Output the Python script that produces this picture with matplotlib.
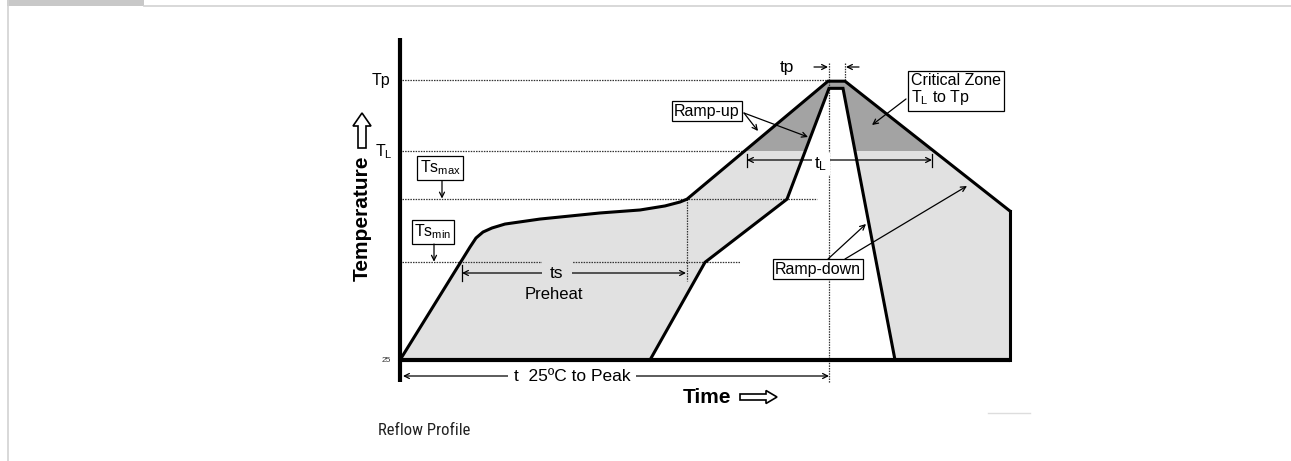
import numpy as np
import matplotlib
matplotlib.use("Agg")
import matplotlib.pyplot as plt
from matplotlib.patches import Rectangle, FancyArrow, Polygon
from matplotlib import font_manager as fm

plt.rcParams['font.family'] = ['Liberation Sans', 'DejaVu Sans']
plt.rcParams['mathtext.default'] = 'regular'

# ---------------- data (schematic reflow profile) ----------------
# outer (max) profile: time units, temperature units
TIME_OUTER = [0, 70, 76, 83, 92, 105, 140, 200, 240, 265, 280, 287, 428, 445, 610, 610]
TEMP_OUTER = [25, 119.8, 127.4, 132.4, 135.8, 139.1, 143.3, 148.4, 150.9, 154.3, 157.6, 160,
              259, 259, 150, 25]
# inner (min) profile
TIME_INNER = [250, 305, 387, 429, 443, 495]
TEMP_INNER = [25, 107, 160, 253, 253, 25]

# temperature levels
LEVEL_LABELS = ['25', 'Ts_min', 'Ts_max', 'T_L', 'Tp']
LEVEL_TEMPS = [25, 107, 160, 200, 260]
T25, TSMIN, TSMAX, TL, TP = LEVEL_TEMPS

# characteristic times
T_TSMIN_CROSS = 61     # outer curve crosses Ts_min
T_TSMAX_CROSS = 287    # outer curve crosses Ts_max
T_TL_START = 347       # start of t_L
T_TL_END = 532         # end of t_L
T_PEAK_START = 429
T_PEAK_END = 445
T_END = 610

# ---------------- figure ----------------
W, H = 1291, 461
fig = plt.figure(figsize=(W / 100, H / 100), dpi=100)
ax = fig.add_axes([0, 0, 1, 1])
K = 235 / 280.0
X0, Y0 = 400, 360


def X(px):
    return px - X0


def T(py):
    return 25 + (Y0 - py) * K


ax.set_xlim(X(0), X(W))
ax.set_ylim(T(H), T(0))
ax.axis('off')

LIGHT = '#e1e1e1'
DARK = '#a3a3a3'
DOT = (0, (1.2, 0.9))

# fills
outer_xy = np.column_stack([TIME_OUTER, TEMP_OUTER])
inner_xy = np.column_stack([TIME_INNER, TEMP_INNER])
ax.add_patch(Polygon(outer_xy, closed=True, fc=LIGHT, ec='none', zorder=1))
dark = Polygon(outer_xy, closed=True, fc=DARK, ec='none', zorder=1.2)
ax.add_patch(dark)
clip = Rectangle((X(0), TL), X(W) - X(0), T(0) - TL, transform=ax.transData)
dark.set_clip_path(clip)
ax.add_patch(Polygon(inner_xy, closed=True, fc='white', ec='none', zorder=1.5))

# dotted reference lines
ref_kw = dict(color='#333333', lw=0.9, ls=DOT, zorder=3)
ax.plot([X(402), T_PEAK_START - 1], [TP, TP], **ref_kw)
ax.plot([X(402), X(745)], [TL, TL], **ref_kw)
ax.plot([X(402), X(817)], [TSMAX, TSMAX], **ref_kw)
ax.plot([X(402), X(740)], [TSMIN, TSMIN], **ref_kw)
ax.plot([T_PEAK_START, T_PEAK_START], [T(63), T(383)], **ref_kw)
ax.plot([T_PEAK_END, T_PEAK_END], [T(63), T(80)], **ref_kw)
ax.plot([T_TSMAX_CROSS, T_TSMAX_CROSS], [TSMAX, T(281)], **ref_kw)

# profile lines
ax.plot(TIME_OUTER[:-1], TEMP_OUTER[:-1], color='black', lw=2.2, zorder=4,
        solid_joinstyle='miter')
ax.plot([TIME_OUTER[-2], TIME_OUTER[-1]], [TEMP_OUTER[-2], TEMP_OUTER[-1]],
        color='black', lw=2.2, zorder=4)
ax.plot(TIME_INNER, TEMP_INNER, color='black', lw=2.2, zorder=4, solid_joinstyle='miter')

# axes
ax.plot([0, 0], [T(38), T(382)], color='black', lw=3.0, zorder=5, solid_capstyle='butt')
ax.plot([0, T_END], [T25, T25], color='black', lw=3.0, zorder=5, solid_capstyle='butt')

# level labels
ax.text(X(381), TP, 'Tp', fontsize=11.5, ha='center', va='center')
ax.text(X(384), TL, r'$T_L$', fontsize=11.5, ha='center', va='center')
ax.text(X(386), T25, '25', fontsize=6, ha='center', va='center', color='#333333')

# axis titles
ax.text(X(362), T(218), 'Temperature', fontsize=15, fontweight='bold', rotation=90,
        ha='center', va='center')
ax.text(X(683), T(397), 'Time', fontsize=15, fontweight='bold', ha='left', va='center')

arrow_kw = dict(arrowstyle='->', lw=0.9, color='black', shrinkA=0, shrinkB=0,
                mutation_scale=9)
box = dict(boxstyle='square,pad=0.15', fc='white', ec='black', lw=0.9)
box_fs = 11.5

# Ts max / Ts min boxes
ax.text(X(440), T(168), r'$Ts_{max}$', fontsize=box_fs, ha='center', va='center',
        bbox=box, zorder=6)
ax.annotate('', xy=(X(442), TSMAX + 0.5), xytext=(X(442), T(181)), arrowprops=arrow_kw,
            zorder=6)
ax.text(X(433), T(232), r'$Ts_{min}$', fontsize=box_fs, ha='center', va='center',
        bbox=box, zorder=6)
ax.annotate('', xy=(X(434), TSMIN + 0.5), xytext=(X(434), T(244)), arrowprops=arrow_kw,
            zorder=6)

# ts preheat arrow
y_ts = T(273)
ax.annotate('', xy=(T_TSMIN_CROSS + 1, y_ts), xytext=(T_TSMAX_CROSS - 1, y_ts),
            arrowprops=dict(arrowstyle='<->', lw=0.9, color='black', shrinkA=0, shrinkB=0,
                            mutation_scale=9), zorder=5)
ax.plot([T_TSMIN_CROSS + 1, T_TSMIN_CROSS + 1], [T(265), T(281)], color='black', lw=0.9,
        zorder=5)
ax.text(X(557), y_ts, 'ts', fontsize=12.5, ha='center', va='center', zorder=6,
        bbox=dict(boxstyle='square,pad=0.5', fc=LIGHT, ec='none'))
ax.text(X(554), T(294), 'Preheat', fontsize=12, ha='center', va='center', zorder=6)

# t 25C to peak
y_t25 = T(376)
ax.annotate('', xy=(X(403), y_t25), xytext=(T_PEAK_START, y_t25),
            arrowprops=dict(arrowstyle='<->', lw=0.9, color='black', shrinkA=0, shrinkB=0,
                            mutation_scale=9), zorder=5)
ax.text(X(572), y_t25, 't  25ºC to Peak', fontsize=12.5, ha='center', va='center', zorder=6,
        bbox=dict(boxstyle='square,pad=0.3', fc='white', ec='none'))

# tL arrow
y_tl = T(160)
ax.annotate('', xy=(T_TL_START, y_tl), xytext=(T_TL_END, y_tl),
            arrowprops=dict(arrowstyle='<->', lw=0.9, color='black', shrinkA=0, shrinkB=0,
                            mutation_scale=9), zorder=5)
for tt in (T_TL_START, T_TL_END):
    ax.plot([tt, tt], [T(154), T(167)], color='black', lw=0.9, zorder=5)
ax.text(X(821), T(164), r'$t_L$', fontsize=12.5, ha='center', va='center', zorder=6,
        bbox=dict(boxstyle='square,pad=0.12', fc='white', ec='none'))

# tp
y_tp = T(67)
ax.text(X(787), y_tp, 'tp', fontsize=12.5, ha='center', va='center', zorder=6)
ax.annotate('', xy=(T_PEAK_START - 1, y_tp), xytext=(X(814), y_tp), arrowprops=arrow_kw,
            zorder=6)
ax.annotate('', xy=(T_PEAK_END + 1, y_tp), xytext=(X(859), y_tp), arrowprops=arrow_kw,
            zorder=6)

# Ramp-up
ax.text(X(707), T(111), 'Ramp-up', fontsize=box_fs, ha='center', va='center', bbox=box,
        zorder=6)
ax.annotate('', xy=(X(758), T(131)), xytext=(X(744), T(113)), arrowprops=arrow_kw, zorder=6)
ax.annotate('', xy=(X(808), T(137)), xytext=(X(744), T(113)), arrowprops=arrow_kw, zorder=6)

# Critical zone
ax.text(X(911), T(90), 'Critical Zone\n' + r'$T_L$ to Tp', fontsize=box_fs, ha='left',
        va='center', linespacing=1.05,
        bbox=dict(boxstyle='square,pad=0.2', fc='white', ec='black', lw=0.9), zorder=6)
ax.annotate('', xy=(X(872), T(125)), xytext=(X(906), T(99)), arrowprops=arrow_kw, zorder=6)

# Ramp-down
ax.text(X(818), T(269), 'Ramp-down', fontsize=box_fs, ha='center', va='center', bbox=box,
        zorder=6)
ax.annotate('', xy=(X(866), T(224)), xytext=(X(828), T(259)), arrowprops=arrow_kw, zorder=6)
ax.annotate('', xy=(X(967), T(186)), xytext=(X(845), T(259)), arrowprops=arrow_kw, zorder=6)

# ---------------- overlay (page decorations) ----------------
ov = fig.add_axes([0, 0, 1, 1], zorder=10)
ov.set_xlim(0, W)
ov.set_ylim(H, 0)
ov.axis('off')
ov.patch.set_alpha(0)

ov.add_patch(Rectangle((7, 0), 137, 6.5, fc='#c8c8c8', ec='none'))
ov.plot([7.5, 7.5], [0, H], color='#d2d2d2', lw=1.2)
ov.plot([144, W], [6.5, 6.5], color='#d2d2d2', lw=1.2)

# hollow arrows next to axis titles
ov.add_patch(FancyArrow(362, 148, 0, -35, width=8, head_width=18, head_length=13,
                        length_includes_head=True, fc='white', ec='black', lw=1.2))
ov.add_patch(FancyArrow(740, 397, 37, 0, width=6, head_width=13, head_length=11,
                        length_includes_head=True, fc='white', ec='black', lw=1.2))
ov.plot([988, 1030], [413, 413], color='#dddddd', lw=1)

# caption in a condensed face when one is available
names = {f.name for f in fm.fontManager.ttflist}
cap_family = 'Liberation Sans'
for cand in ['Liberation Sans Narrow', 'Roboto Condensed', 'DejaVu Sans Condensed',
             'Open Sans Condensed', 'Noto Sans Condensed']:
    if cand in names:
        cap_family = cand
        break
cap_stretch = 'normal'
cond = [f for f in fm.fontManager.ttflist
        if f.name in ('DejaVu Sans', 'Roboto', 'Noto Sans', 'Open Sans')
        and str(f.stretch) in ('condensed', 'semi-condensed', '75', '87.5', '87')]
if cap_family == 'Liberation Sans' and cond:
    cap_family = cond[0].name
    cap_stretch = cond[0].stretch
ov.text(378, 430, 'Reflow Profile', fontsize=12, ha='left', va='center', color='#222222',
        family=[cap_family, 'DejaVu Sans'], fontstretch=cap_stretch)

fig.savefig('out.png', dpi=100)
